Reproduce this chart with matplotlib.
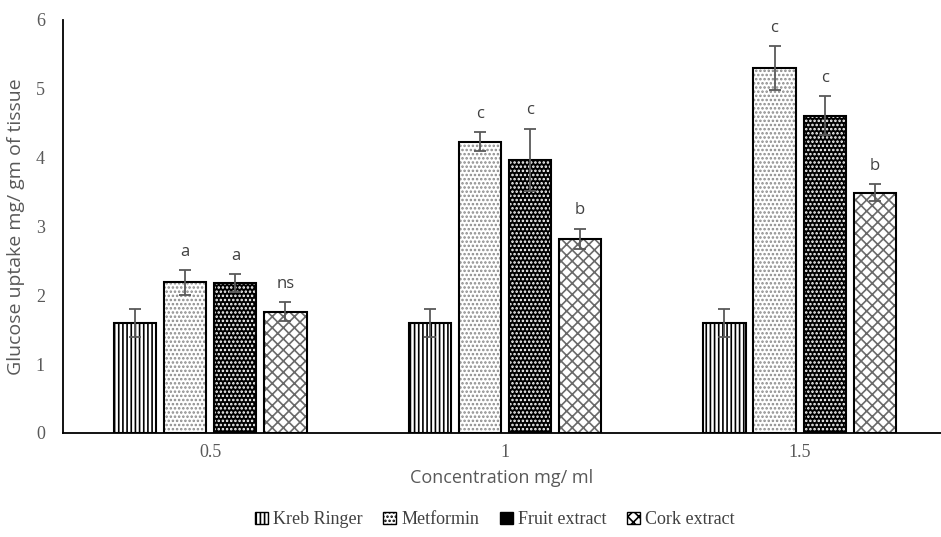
import matplotlib.pyplot as plt
import numpy as np
from matplotlib.patches import Patch

# data
concentrations = ["0.5", "1", "1.5"]
treatments = ["Kreb Ringer", "Metformin", "Fruit extract", "Cork extract"]
kreb = [1.60, 1.60, 1.60]
metformin = [2.19, 4.23, 5.30]
fruit = [2.18, 3.97, 4.61]
cork = [1.76, 2.82, 3.49]
kreb_err = [0.20, 0.20, 0.20]
metformin_err = [0.18, 0.14, 0.32]
fruit_err = [0.13, 0.45, 0.28]
cork_err = [0.14, 0.15, 0.12]
letters = [["", "a", "a", "ns"], ["", "c", "c", "b"], ["", "c", "c", "b"]]

values = [kreb, metformin, fruit, cork]
errors = [kreb_err, metformin_err, fruit_err, cork_err]

# fill styles: (facecolor, hatch colour, hatch)
styles = [("white", "black", "||||"),
          ("white", "#8a8a8a", "...."),
          ("black", "white", "...."),
          ("white", "#6a6a6a", "xxx")]

plt.rcParams['hatch.linewidth'] = 1.2
grey = "#595959"

fig = plt.figure(figsize=(9.41, 5.37), dpi=100)
ax = fig.add_axes([0.067, 0.1937, 0.933, 0.7691])

x = np.arange(len(concentrations))
width = 0.143
step = 0.17
for i, (vals, errs) in enumerate(zip(values, errors)):
    pos = x + (i - 1.5) * step
    fc, hc, hatch = styles[i]
    ax.bar(pos, vals, width, color=fc, edgecolor=hc, hatch=hatch, linewidth=0, zorder=2)
    ax.bar(pos, vals, width, fill=False, edgecolor="black", linewidth=1.5, zorder=3)
    ax.errorbar(pos, vals, yerr=errs, fmt="none", ecolor=grey, elinewidth=1.3,
                capsize=4, capthick=1.3, zorder=4)
    for j in range(len(concentrations)):
        lab = letters[j][i]
        if lab:
            ax.text(pos[j], vals[j] + errs[j] + 0.15, lab, ha="center", va="bottom",
                    fontsize=12, color="#404040", family="Open Sans")

ax.set_xlim(-0.5, 2.48)
ax.set_ylim(0, 6)
ax.set_xticks(x)
ax.set_xticklabels(concentrations)
ax.set_yticks(range(7))
for lab in ax.get_xticklabels() + ax.get_yticklabels():
    lab.set_family("Liberation Serif")
    lab.set_fontsize(13)
    lab.set_color(grey)
ax.tick_params(axis="y", length=0, pad=13)
ax.tick_params(axis="x", length=0, pad=8)
for s in ["top", "right"]:
    ax.spines[s].set_visible(False)
ax.spines["left"].set_linewidth(1.3)
ax.spines["bottom"].set_linewidth(1.3)

ax.set_ylabel("Glucose uptake mg/ gm of tissue", family="Open Sans", fontsize=14,
              color=grey, labelpad=8)
ax.set_xlabel("Concentration mg/ ml", family="Open Sans", fontsize=13,
              color=grey, labelpad=6)

handles = []
for fc, hc, hatch in styles:
    handles.append(Patch(facecolor=fc, edgecolor="black", hatch=hatch, linewidth=1))
leg = fig.legend(handles, treatments, loc="center", bbox_to_anchor=(0.526, 0.032),
                 ncol=4, frameon=False, handlelength=0.7, handleheight=0.7,
                 handletextpad=0.3, columnspacing=1.15,
                 prop={"family": "Liberation Serif", "size": 13})
for t in leg.get_texts():
    t.set_color("#404040")

fig.savefig("out.png", dpi=100)
